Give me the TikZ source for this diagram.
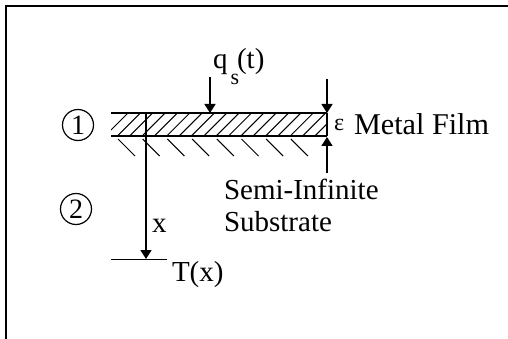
\documentclass[tikz,border=0pt]{standalone}
\usepackage{fontspec}
\setmainfont{Liberation Serif}
\usetikzlibrary{arrows.meta}
\tikzset{
  thinline/.style={line width=1.2pt,black},
  heavy/.style={line width=1.6pt,black},
  arrowline/.style={line width=1.6pt,black,-{Triangle[width=11pt,length=9pt]}},
  hatchline/.style={line width=1pt,black},
  lbl/.style={inner sep=0pt,outer sep=0pt,anchor=base west,font=\fontsize{29}{30}\selectfont},
  circled/.style={draw,circle,line width=1.2pt,minimum size=31pt,inner sep=0pt,font=\fontsize{28}{28}\selectfont},
}
\begin{document}
\begin{tikzpicture}[x=1pt,y=-1pt]
\useasboundingbox (0,0) rectangle (508,339);
% outer frame
\coordinate (fbl) at (6,339);
\coordinate (ftl) at (6,6);
\coordinate (ftr) at (508,6);
\draw[line width=2pt] (fbl) -- (ftl) -- (ftr);
% film hatch
\begin{scope}
\clip (111,114) rectangle (327,136);
\foreach \k in {0,...,19} {
  \draw[hatchline] ({104+\k*12.35},137) -- ++(26,-26);
}
\end{scope}
% film outline
\node[inner sep=0pt,outer sep=0pt,minimum width=216pt,minimum height=23pt,anchor=north west] (film) at (111,113) {};
\draw[heavy] (film.north west) -- (film.north east);
\draw[heavy] (film.south west) -- (film.south east);
\draw[thinline] (film.north east) -- (film.south east);
% substrate hatch
\foreach \k in {0,...,7} {
  \draw[hatchline] ({118+\k*24.7},139) -- ++(17,17);
}
% x axis
\coordinate (xtop) at (146,113);
\coordinate (xend) at (146,259);
\coordinate (tl) at (111,259.5);
\coordinate (tr) at (167,259.5);
\draw[arrowline] (xtop) -- (xend);
\draw[heavy] (tl) -- (tr);
% flux arrow
\coordinate (qtop) at (210,77);
\coordinate (qend) at (210,113);
\draw[arrowline] (qtop) -- (qend);
% thickness arrows
\coordinate (e1top) at (327,79);
\coordinate (e1end) at (327,113);
\coordinate (e2bot) at (327,173);
\coordinate (e2end) at (327,137);
\draw[arrowline] (e1top) -- (e1end);
\draw[arrowline] (e2bot) -- (e2end);
% labels
\node[circled] (c1) at (78,125) {1};
\node[circled] (c2) at (76,209) {2};
\node[lbl] (q) at (213,68.5) {q\kern3pt\raisebox{-16pt}{\fontsize{22}{22}\selectfont s}\kern-2pt{\fontsize{29}{29}\selectfont (t)}};
\node[lbl,font=\fontsize{24}{24}\selectfont] (eps) at (334,131) {ε};
\node[lbl,font=\fontsize{30.2}{31}\selectfont] (mf) at (354,135) {Metal Film};
\node[lbl] (si) at (224,199) {Semi-Infinite};
\node[lbl] (sub) at (224,231) {Substrate};
\node[lbl] (xl) at (152,232) {x};
\node[lbl] (tx) at (172,281) {T(x)};
\end{tikzpicture}
\end{document}
